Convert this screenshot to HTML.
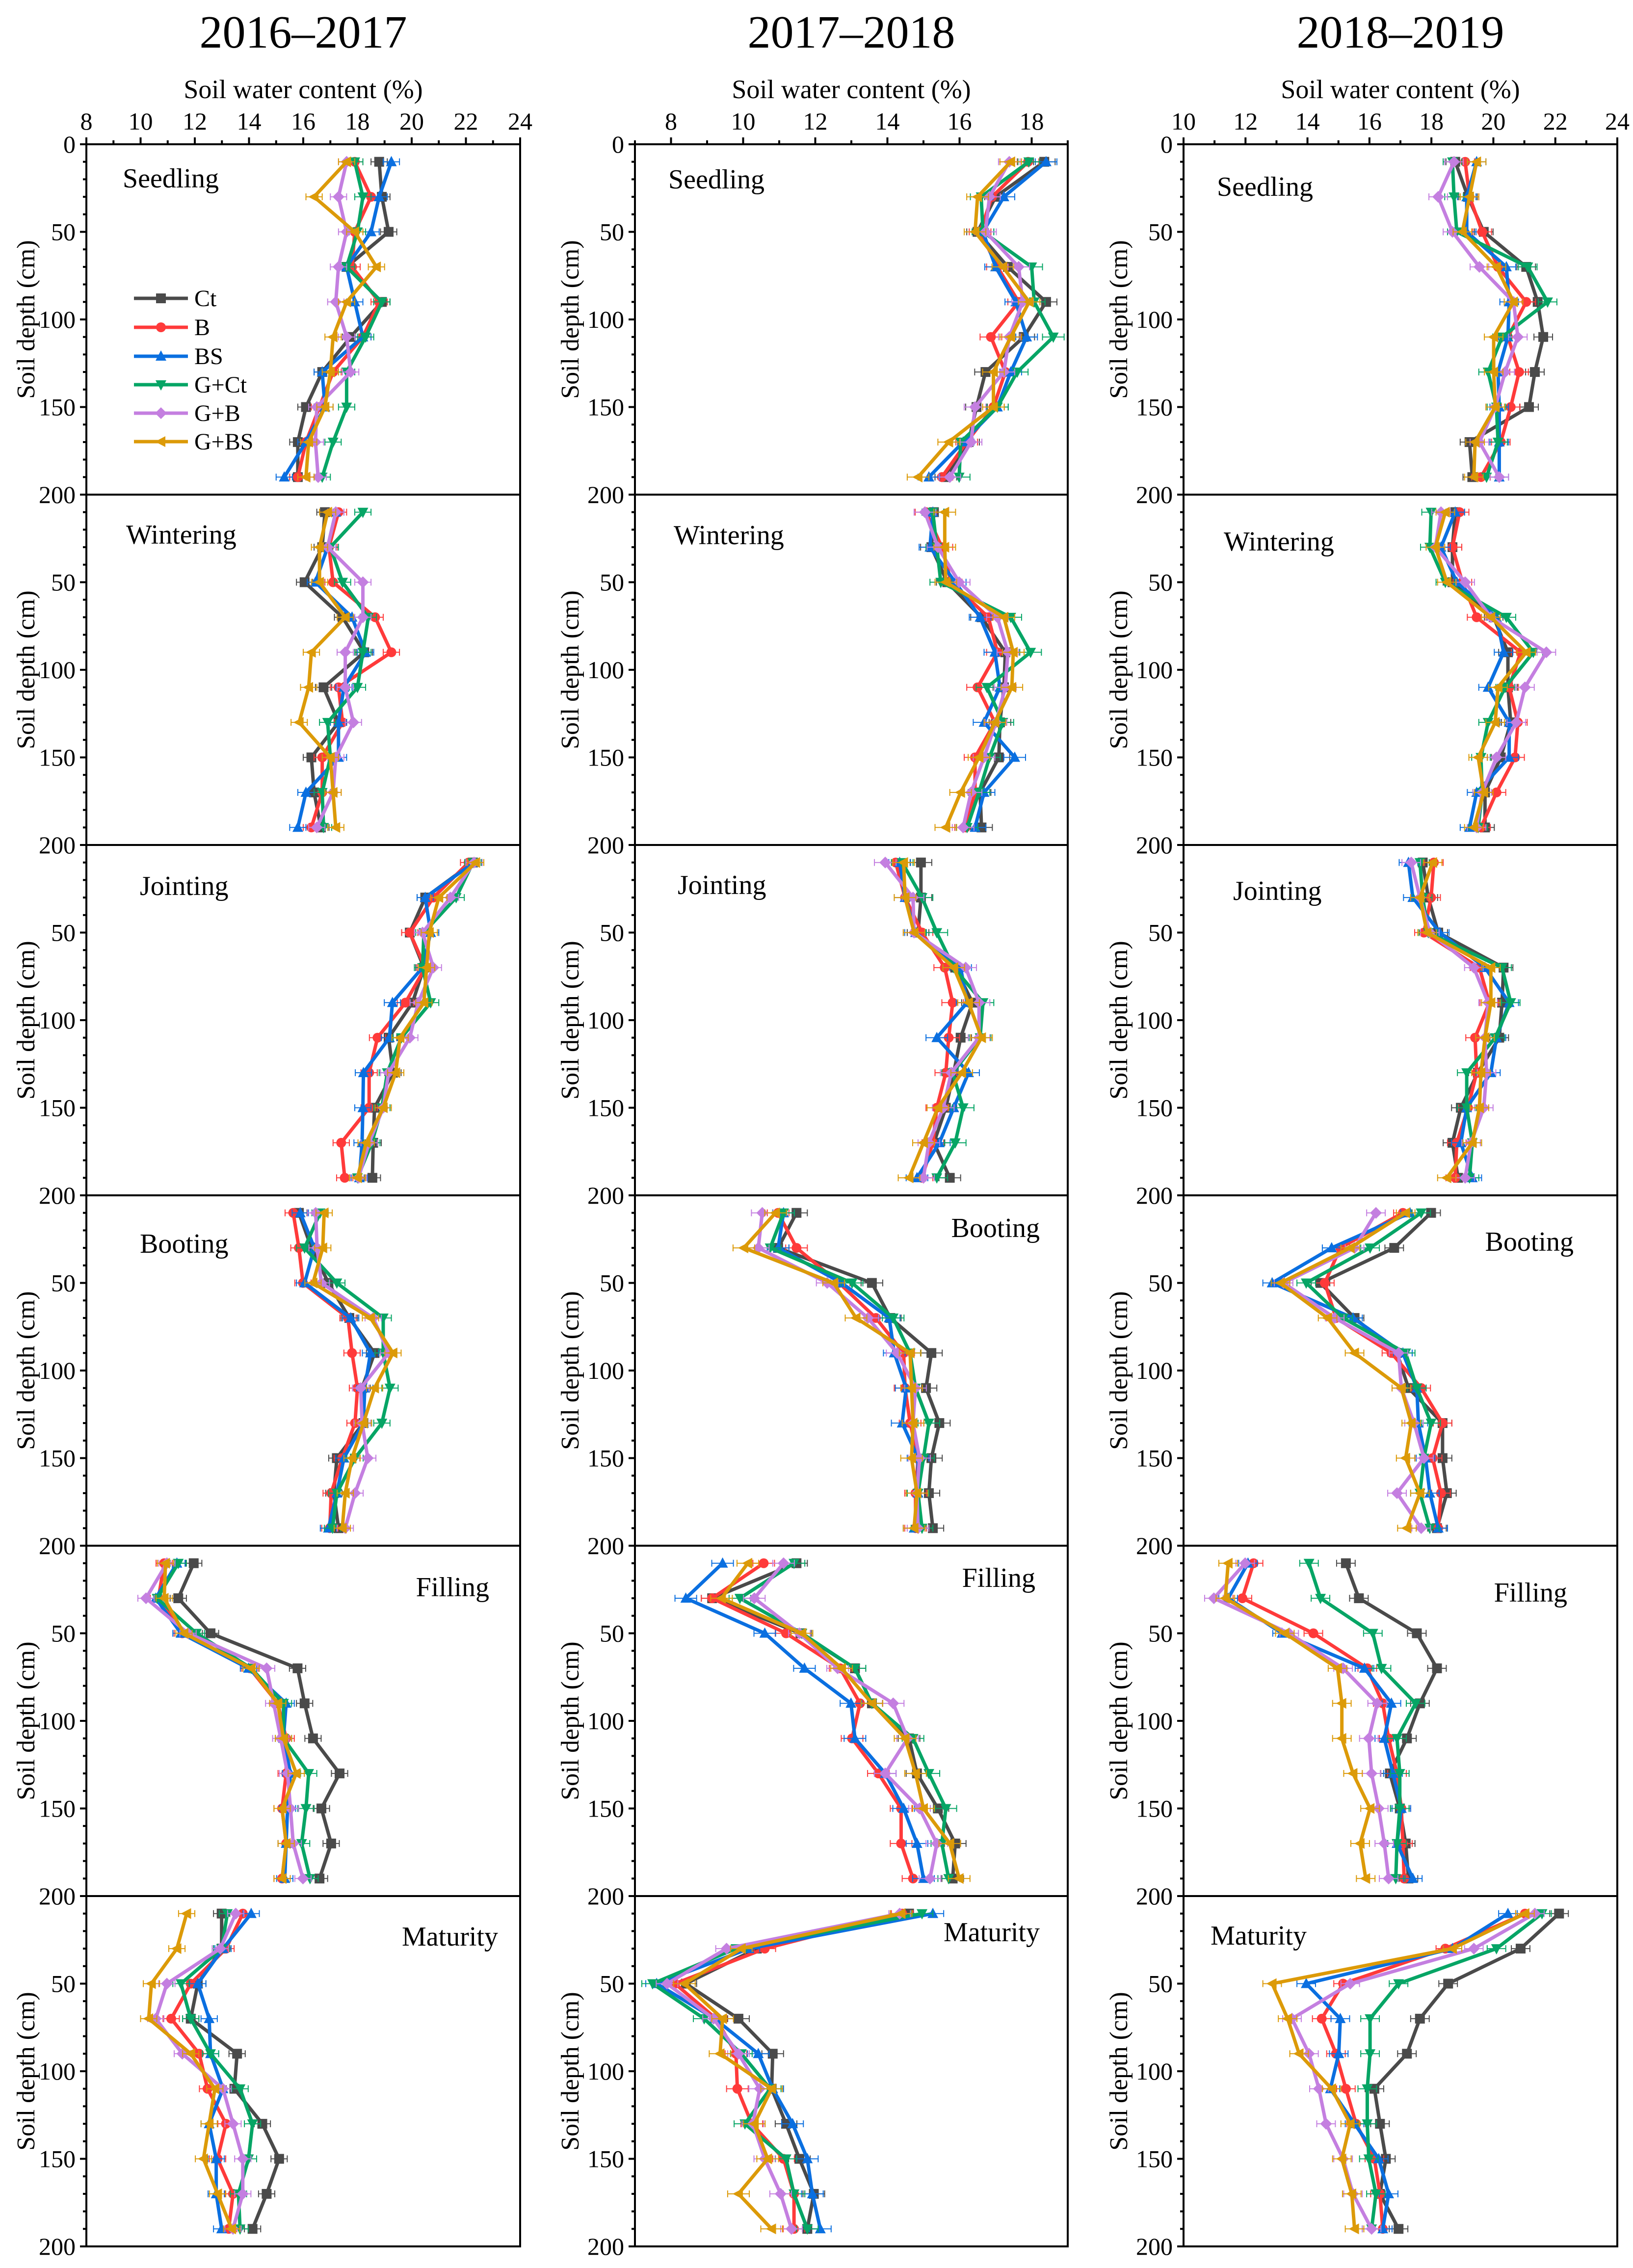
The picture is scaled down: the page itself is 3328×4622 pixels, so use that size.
<!DOCTYPE html>
<html><head><meta charset="utf-8"><title>Soil water content profiles</title>
<style>
html,body{margin:0;padding:0;background:#fff;}
svg{display:block;font-family:"Liberation Serif","Times New Roman",serif;}
</style></head>
<body>
<svg id="chart" xmlns="http://www.w3.org/2000/svg" width="3328" height="4622" viewBox="0 0 3328 4622">
<rect x="0" y="0" width="3328" height="4622" fill="#fff"/>
</svg>
<script>
const depths = [10,30,50,70,90,110,130,150,170,190];
const seriesNames = ["Ct","B","BS","G+Ct","G+B","G+BS"];
const years = ["2016–2017","2017–2018","2018–2019"];
const stages = ["Seedling","Wintering","Jointing","Booting","Filling","Maturity"];
const xTicks1 = [8,10,12,14,16,18,20,22,24];
const xTicks2 = [8,10,12,14,16,18];
const xTicks3 = [10,12,14,16,18,20,22,24];
const yTicks = [0,50,100,150,200];

// ---- 2016–2017 ----
const y1_seedling = {
 Ct:[18.8,18.9,19.15,17.6,18.9,17.75,16.7,16.1,15.8,15.8],
 B:[17.9,18.5,17.9,17.8,18.8,18.2,17.1,16.6,16.1,15.8],
 BS:[19.25,18.8,18.5,17.6,17.9,18.2,16.7,16.8,16.1,15.3],
 GCt:[17.9,18.2,18.0,17.6,18.9,18.3,17.6,17.6,17.1,16.7],
 GB:[17.6,17.3,17.6,17.3,17.2,17.6,17.75,16.5,16.45,16.55],
 GBS:[17.6,16.4,17.9,18.7,17.6,17.1,17.0,16.8,16.2,16.1]};
const y1_wintering = {
 Ct:[16.8,16.7,16.05,17.45,18.25,16.75,17.3,16.3,16.4,16.65],
 B:[17.3,16.95,17.1,18.65,19.25,17.3,17.45,16.7,16.7,16.3],
 BS:[17.2,16.9,16.45,17.8,18.3,17.5,17.3,17.3,16.1,15.8],
 GCt:[18.2,17.0,17.45,18.4,18.2,18.0,16.9,17.0,16.7,16.75],
 GB:[17.2,16.9,18.2,18.2,17.55,17.55,17.85,17.2,17.1,16.5],
 GBS:[16.9,16.6,16.6,17.55,16.3,16.2,15.85,17.0,17.1,17.2]};
const y1_jointing = {
 Ct:[22.26,20.5,19.93,20.45,20.03,19.15,19.31,18.63,18.58,18.55],
 B:[22.1,20.8,19.93,20.5,19.77,18.74,18.43,18.43,17.4,17.53],
 BS:[22.3,20.5,20.7,20.4,19.29,19.18,18.22,18.2,18.17,18.07],
 GCt:[22.26,21.64,20.45,20.4,20.7,19.62,19.1,18.9,18.53,18.0],
 GB:[22.3,21.43,20.4,20.8,20.24,19.93,19.15,18.95,18.43,18.04],
 GBS:[22.36,21.0,20.65,20.55,20.45,19.57,19.41,18.95,18.32,18.0]};
const y1_booting = {
 Ct:[15.84,16.3,16.93,17.7,18.63,18.17,18.22,17.24,17.13,17.3],
 B:[15.63,15.84,15.99,17.65,17.8,18.0,17.91,17.44,17.03,16.98],
 BS:[15.89,16.41,16.05,17.75,18.48,18.27,18.22,17.5,17.24,16.93],
 GCt:[16.62,16.05,17.24,18.95,18.95,19.2,18.9,17.91,17.24,17.08],
 GB:[16.46,16.51,16.67,18.58,19.15,18.12,18.17,18.38,17.91,17.55],
 GBS:[16.77,16.72,16.36,18.48,19.31,18.63,18.22,17.8,17.55,17.44]};
const y1_filling = {
 Ct:[11.96,11.39,12.58,15.79,16.05,16.36,17.34,16.67,17.03,16.6],
 B:[10.87,10.66,11.54,14.03,15.06,15.37,15.37,15.22,15.37,15.22],
 BS:[11.34,10.56,11.49,13.98,15.37,15.27,15.53,15.42,15.37,15.32],
 GCt:[11.39,10.61,12.06,14.08,15.27,15.27,16.2,16.1,15.94,16.25],
 GB:[10.97,10.2,11.75,14.65,14.91,15.17,15.42,15.53,15.63,15.99],
 GBS:[10.92,10.87,11.6,14.08,15.06,15.27,15.74,15.22,15.37,15.22]};
const y1_maturity = {
 Ct:[12.99,12.99,12.11,11.85,13.56,13.46,14.49,15.11,14.65,14.13],
 B:[13.77,13.15,11.85,11.13,12.16,12.47,13.15,12.84,13.41,13.25],
 BS:[14.08,13.04,12.11,12.53,12.58,13.04,12.53,12.79,12.79,12.99],
 GCt:[13.2,12.99,11.49,11.85,12.58,13.67,14.13,13.98,13.61,13.67],
 GB:[13.51,12.94,10.97,10.56,11.54,13.04,13.41,13.77,13.77,13.41],
 GBS:[11.7,11.34,10.4,10.3,11.85,12.74,12.53,12.32,12.84,13.36]};

// ---- 2017–2018 ----
const y2_seedling = {
 Ct:[18.35,17.0,16.5,17.34,18.4,17.78,16.72,16.47,16.25,15.62],
 B:[17.9,16.9,16.57,17.05,17.64,16.87,17.27,16.94,16.2,15.51],
 BS:[18.4,17.23,16.65,17.0,17.56,17.86,17.42,17.05,16.1,15.15],
 GCt:[17.92,16.6,16.65,18.0,18.07,18.6,17.6,17.05,16.03,15.99],
 GB:[17.38,16.83,16.72,17.64,17.75,17.38,17.23,16.43,16.32,15.73],
 GBS:[17.42,16.5,16.43,17.2,17.93,17.42,16.94,16.94,15.7,14.85]};
const y2_wintering = {
 Ct:[15.29,15.22,15.66,16.61,17.27,17.23,17.12,17.09,16.57,16.61],
 B:[15.07,15.51,15.77,16.8,17.05,16.5,16.98,16.43,16.43,16.17],
 BS:[15.26,15.18,15.88,16.57,16.98,17.12,16.68,17.53,16.68,16.43],
 GCt:[15.26,15.37,15.48,17.42,17.97,16.76,17.2,16.83,16.54,16.21],
 GB:[15.04,15.4,15.99,17.05,17.34,17.27,17.01,16.68,16.32,16.1],
 GBS:[15.59,15.59,15.62,17.23,17.49,17.45,16.98,16.54,16.03,15.62]};
const y2_jointing = {
 Ct:[14.93,14.93,14.85,15.88,16.36,16.03,15.84,15.62,15.29,15.73],
 B:[14.23,14.49,14.96,15.59,15.81,15.7,15.62,15.37,15.26,14.96],
 BS:[14.34,14.49,14.78,16.03,16.21,15.37,16.25,15.84,15.44,14.82],
 GCt:[14.41,14.96,15.37,15.84,16.65,16.57,15.81,16.1,15.88,15.37],
 GB:[13.94,14.71,14.74,16.17,16.54,16.54,15.77,15.55,15.15,15.0],
 GBS:[14.45,14.49,14.74,15.84,16.25,16.61,16.06,15.4,15.0,14.6]};
const y2_booting = {
 Ct:[11.48,10.97,13.57,14.08,15.22,15.07,15.44,15.22,15.15,15.26],
 B:[10.97,11.48,12.66,13.68,14.45,14.49,14.63,14.85,14.78,14.78],
 BS:[11.12,10.97,12.73,14.05,14.19,14.52,14.41,14.85,14.85,14.74],
 GCt:[11.12,10.75,13.02,14.16,14.63,14.78,15.15,15.0,14.85,14.96],
 GB:[10.53,10.42,12.33,13.46,14.27,14.78,14.71,14.89,14.82,14.85],
 GBS:[10.9,10.02,12.51,13.13,14.63,14.67,14.71,14.67,14.82,14.74]};
const y2_filling = {
 Ct:[11.48,9.14,11.59,13.1,13.57,14.6,14.82,15.4,15.88,15.81],
 B:[10.57,9.14,11.19,12.69,13.24,13.02,13.75,14.38,14.38,14.71],
 BS:[9.43,8.41,10.6,11.7,12.99,13.1,13.94,14.45,14.82,15.0],
 GCt:[11.41,9.91,11.63,13.1,13.57,14.71,15.15,15.62,15.51,15.7],
 GB:[11.12,10.31,11.56,12.62,14.16,14.56,13.94,14.89,15.37,15.18],
 GBS:[10.13,9.4,11.63,12.73,13.57,14.49,14.78,15.0,15.73,15.99]};
const y2_maturity = {
 Ct:[14.6,10.38,8.41,9.87,10.82,10.79,11.19,11.56,11.96,11.78],
 B:[14.41,10.6,8.11,9.25,9.8,9.84,10.24,11.12,11.41,11.41],
 BS:[15.26,10.16,7.6,9.21,10.42,10.82,11.37,11.78,11.92,12.14],
 GCt:[14.96,9.8,7.49,8.92,9.95,10.75,10.05,11.19,11.41,11.78],
 GB:[14.34,9.54,7.89,9.18,9.87,10.46,10.27,10.6,11.04,11.34],
 GBS:[14.38,9.95,8.37,9.43,9.36,10.79,10.31,10.68,9.87,10.79]};

// ---- 2018–2019 ----
const y3_seedling = {
 Ct:[18.77,19.18,19.69,21.06,21.43,21.61,21.34,21.15,19.23,19.32],
 B:[19.09,19.23,19.64,20.15,21.06,20.47,20.83,20.56,20.24,19.6],
 BS:[19.46,19.14,19.14,20.42,20.51,20.47,20.15,20.19,20.19,20.19],
 GCt:[18.68,18.73,18.82,21.11,21.75,20.28,19.83,20.1,20.15,19.78],
 GB:[18.73,18.22,18.68,19.55,20.65,20.79,20.38,20.06,19.55,20.19],
 GBS:[19.46,19.23,19.0,20.1,20.65,20.01,20.01,20.06,19.41,19.37]};
const y3_wintering = {
 Ct:[18.77,18.68,18.68,20.01,20.47,20.47,20.56,20.24,19.73,19.73],
 B:[18.91,18.68,19.0,19.46,20.88,20.51,20.79,20.7,20.1,19.6],
 BS:[18.77,18.31,18.82,20.1,20.33,19.83,20.51,20.51,19.46,19.23],
 GCt:[17.99,17.95,18.45,20.42,21.29,20.38,19.83,19.6,19.64,19.51],
 GB:[18.31,18.13,19.09,19.92,21.71,21.02,20.74,20.1,19.64,19.46],
 GBS:[18.45,18.13,18.5,19.92,21.06,20.15,20.06,19.51,19.69,19.37]};
const y3_jointing = {
 Ct:[17.72,17.9,18.22,20.33,20.28,20.19,19.5,18.95,18.68,18.86],
 B:[18.08,17.99,17.76,19.55,19.87,19.41,19.46,19.18,18.82,18.77],
 BS:[17.26,17.4,18.27,19.73,20.51,20.1,19.92,19.14,18.95,19.32],
 GCt:[17.63,17.72,17.9,20.28,20.56,20.06,19.14,19.14,19.32,19.23],
 GB:[17.35,17.63,17.95,19.37,19.83,19.73,19.78,19.69,19.28,19.09],
 GBS:[18.04,17.63,17.86,19.92,19.92,19.73,19.6,19.55,19.32,18.5]};
const y3_booting = {
 Ct:[17.99,16.8,14.42,15.52,16.89,17.26,18.36,18.36,18.5,18.18],
 B:[17.08,15.06,14.56,14.92,16.71,17.67,18.36,18.04,18.31,18.22],
 BS:[17.31,14.78,12.86,15.47,17.08,17.53,17.58,17.81,17.95,18.22],
 GCt:[17.67,16.02,13.96,15.15,17.17,17.53,17.99,17.76,17.63,17.95],
 GB:[16.21,15.52,13.23,14.88,16.94,17.03,17.44,17.76,16.89,17.67],
 GBS:[17.17,15.38,13.13,14.65,15.52,17.03,17.35,17.17,17.63,17.21]};
const y3_filling = {
 Ct:[15.24,15.66,17.53,18.18,17.63,17.21,16.66,16.98,17.17,17.26],
 B:[12.26,11.9,14.19,15.93,16.43,16.62,16.89,17.03,17.08,17.12],
 BS:[12.08,11.44,13.18,15.84,16.71,16.48,16.76,17.03,16.89,17.4],
 GCt:[14.05,14.42,16.11,16.39,17.49,16.89,16.98,16.98,16.89,16.85],
 GB:[11.99,10.98,13.41,15.15,16.25,15.98,16.07,16.3,16.48,16.62],
 GBS:[11.44,11.35,13.27,14.97,15.11,15.11,15.47,16.02,15.7,15.88]};
const y3_maturity = {
 Ct:[22.12,20.88,18.54,17.63,17.21,16.16,16.34,16.53,16.34,16.94],
 B:[21.02,18.45,15.15,14.46,14.92,15.24,15.57,16.16,16.34,16.43],
 BS:[20.47,18.68,13.96,15.06,15.01,14.74,15.52,16.3,16.62,16.43],
 GCt:[21.57,20.1,16.94,16.02,16.02,15.93,15.93,15.98,16.21,16.07],
 GB:[21.34,19.37,15.38,13.5,14.05,14.37,14.6,15.15,15.47,16.07],
 GBS:[21.02,18.68,12.86,13.36,13.73,14.78,15.38,15.11,15.43,15.52]};

const NS = "http://www.w3.org/2000/svg";
const svg = document.getElementById("chart");
const keys = ["Ct","B","BS","GCt","GB","GBS"];
const colors = ["#4a4a4a","#ff3a3a","#0a6fe0","#06a565","#c47fe0","#dc9a08"];
const markers = ["square","circle","up","down","diamond","left"];
const cols = [
 {left:176, right:1060, xmin:8, xmax:24, ticks:xTicks1, panels:[y1_seedling,y1_wintering,y1_jointing,y1_booting,y1_filling,y1_maturity], ytitle:53},
 {left:1294, right:2176, xmin:7, xmax:19, ticks:xTicks2, panels:[y2_seedling,y2_wintering,y2_jointing,y2_booting,y2_filling,y2_maturity], ytitle:1162},
 {left:2412, right:3296, xmin:10, xmax:24, ticks:xTicks3, panels:[y3_seedling,y3_wintering,y3_jointing,y3_booting,y3_filling,y3_maturity], ytitle:2280}
];
const panelTop0 = 294, panelH = 714;
const labelPos = [
 [["start",250,69],["start",257,81],["start",285,83],["start",285,98],["end",997,84],["end",1015,82]],
 [["start",1362,71],["start",1373,82],["start",1381,81],["end",2119,66],["end",2110,65],["end",2119,73]],
 [["start",2480,86],["start",2494,95],["start",2513,93],["end",3207,94],["end",3194,95],["start",2467,80]]
];

function mk(tag, attrs, parent){
  const e = document.createElementNS(NS, tag);
  for (const k in attrs) e.setAttribute(k, attrs[k]);
  (parent||svg).appendChild(e);
  return e;
}
function drawMarker(type, cx, cy, color, g){
  const s = 10;
  let e;
  if (type==="square") e = mk("rect",{x:cx-s,y:cy-s,width:2*s,height:2*s,fill:color},g);
  else if (type==="circle") e = mk("circle",{cx:cx,cy:cy,r:s,fill:color},g);
  else if (type==="up") e = mk("polygon",{points:`${cx},${cy-s-2} ${cx-s-1},${cy+s-1} ${cx+s+1},${cy+s-1}`,fill:color},g);
  else if (type==="down") e = mk("polygon",{points:`${cx},${cy+s+2} ${cx-s-1},${cy-s+1} ${cx+s+1},${cy-s+1}`,fill:color},g);
  else if (type==="diamond") e = mk("polygon",{points:`${cx},${cy-s-2} ${cx+s+2},${cy} ${cx},${cy+s+2} ${cx-s-2},${cy}`,fill:color},g);
  else e = mk("polygon",{points:`${cx-s-2},${cy} ${cx+s-1},${cy-s-1} ${cx+s-1},${cy+s+1}`,fill:color},g);
  return e;
}

const ERR = 0.3;

cols.forEach((c, ci) => {
  const xs = v => c.left + (v - c.xmin) / (c.xmax - c.xmin) * (c.right - c.left);
  const cx = (c.left + c.right) / 2;
  const yt = mk("text",{x:cx,y:97,"text-anchor":"middle","font-size":94,fill:"#000"});
  yt.textContent = years[ci];
  
  
  const xt = mk("text",{x:cx,y:200,"text-anchor":"middle","font-size":54,fill:"#000"});
  xt.textContent = "Soil water content (%)";
  
  
  for (let v = Math.ceil(c.xmin); v <= c.xmax; v++) {
    const major = c.ticks.indexOf(v) >= 0;
    const tk = mk("line",{x1:xs(v),x2:xs(v),y1:panelTop0,y2:panelTop0-(major?14:8),stroke:"#000","stroke-width":4});
    
    
  }
  c.ticks.forEach(v => {
    const tl = mk("text",{x:xs(v),y:264,"text-anchor":"middle","font-size":50,fill:"#000"});
    tl.textContent = v;
    
    
  });

  c.panels.forEach((pd, pi) => {
    const top = panelTop0 + pi * panelH;
    const ys = d => top + d / 200 * panelH;
    const g = mk("g",{});
    
    
    const fr = mk("rect",{x:c.left,y:top,width:c.right-c.left,height:panelH,fill:"none",stroke:"#000","stroke-width":4},g);
    
    
    for (let d = 0; d <= 200; d += 10) {
      const major = d % 50 === 0;
      const tk = mk("line",{x1:c.left,x2:c.left-(major?13:7),y1:ys(d),y2:ys(d),stroke:"#000","stroke-width":4},g);
      
      
    }
    yTicks.forEach(d => {
      if (d === 0 && pi > 0) return;
      const tl = mk("text",{x:c.left-22,y:ys(d)+17,"text-anchor":"end","font-size":50,fill:"#000"},g);
      tl.textContent = d;
      
      
    });
    const yl = mk("text",{x:c.ytitle,y:top+panelH/2,"text-anchor":"middle","font-size":52,fill:"#000",transform:`rotate(-90 ${c.ytitle} ${top+panelH/2}) translate(0 17)`},g);
    yl.textContent = "Soil depth (cm)";
    
    
    const lp = labelPos[ci][pi];
    const sl = mk("text",{x:lp[1],y:top+lp[2]+19,"text-anchor":lp[0],"font-size":56,fill:"#000"},g);
    sl.textContent = stages[pi];
    
    
    keys.forEach((k, si) => {
      const vals = pd[k];
      const sg = mk("g",{},g);
      
      
      vals.forEach((v, i) => {
        const px = xs(v), py = ys(depths[i]);
        const a = xs(v-ERR), b = xs(v+ERR);
        mk("line",{x1:a,x2:b,y1:py,y2:py,stroke:colors[si],"stroke-width":2},sg);
        mk("line",{x1:a,x2:a,y1:py-7,y2:py+7,stroke:colors[si],"stroke-width":2},sg);
        mk("line",{x1:b,x2:b,y1:py-7,y2:py+7,stroke:colors[si],"stroke-width":2},sg);
      });
      const pts = vals.map((v, i) => xs(v) + "," + ys(depths[i])).join(" ");
      const pl = mk("polyline",{points:pts,fill:"none",stroke:colors[si],"stroke-width":7,"stroke-linejoin":"round"},sg);
      
      
      vals.forEach((v, i) => {
        const m = drawMarker(markers[si], xs(v), ys(depths[i]), colors[si], sg);
        
        
      });
    });
  });
});

const lg = mk("g",{});


const legendY = [608,667,726,784,842,900];
seriesNames.forEach((n, i) => {
  const eg = mk("g",{},lg);
  
  
  mk("line",{x1:273,x2:383,y1:legendY[i],y2:legendY[i],stroke:colors[i],"stroke-width":7},eg);
  drawMarker(markers[i], 328, legendY[i], colors[i], eg);
  const t = mk("text",{x:396,y:legendY[i]+16,"font-size":48,fill:"#000"},eg);
  t.textContent = n;
});
</script>
</body></html>
